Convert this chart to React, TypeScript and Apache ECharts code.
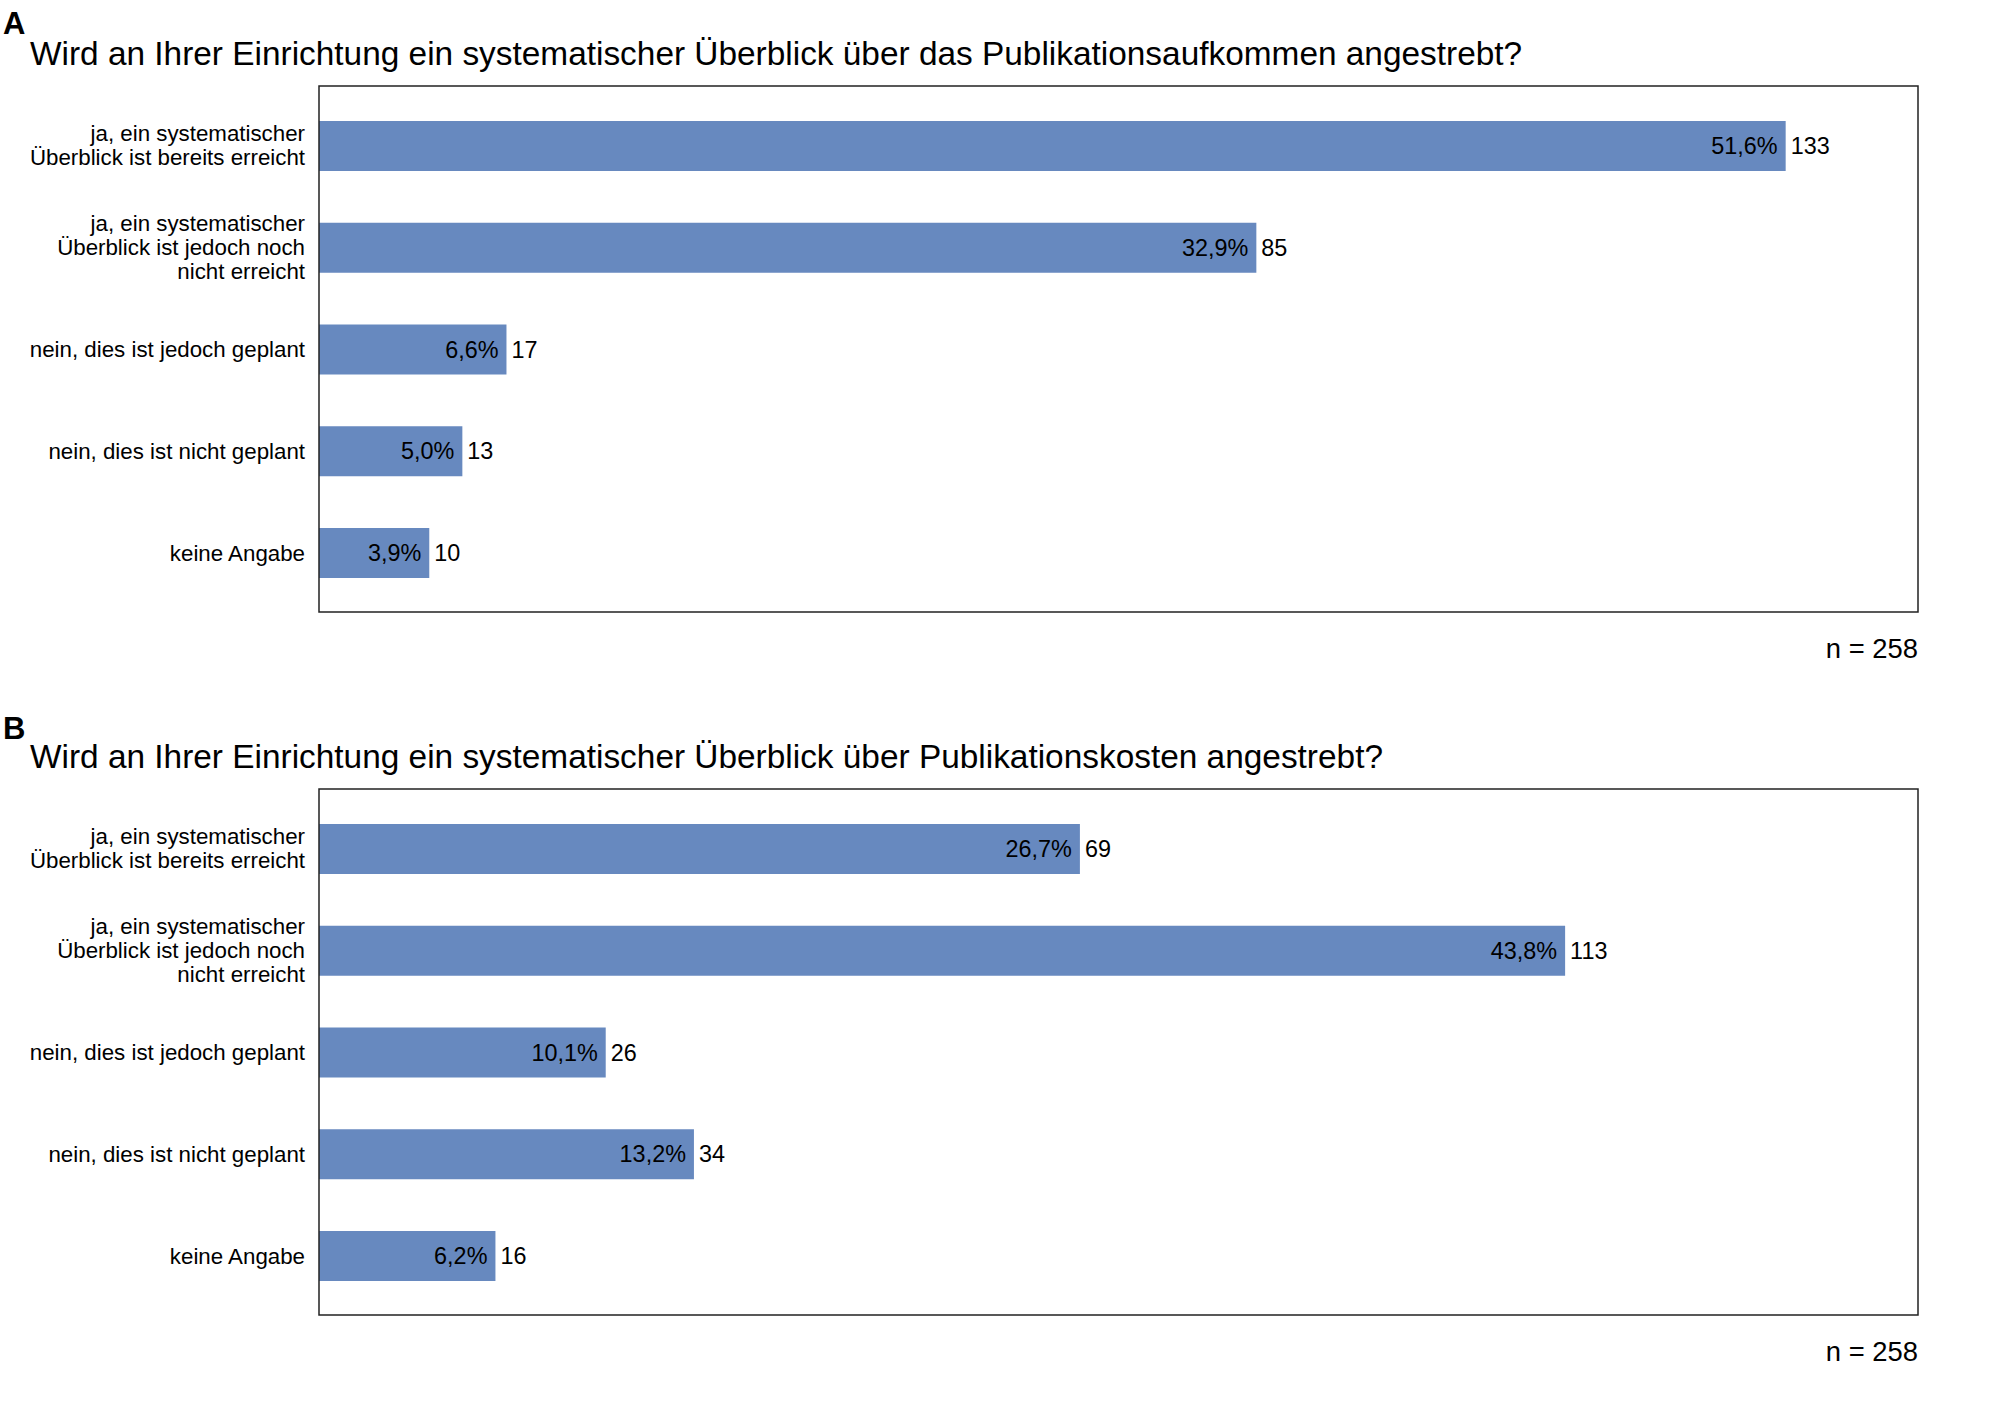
import React, { useEffect, useRef } from "react";
import * as echarts from "echarts";

// answer categories (same for both questions)
const categories = [
	"ja, ein systematischer\nÜberblick ist bereits erreicht",
	"ja, ein systematischer\nÜberblick ist jedoch noch\nnicht erreicht",
	"nein, dies ist jedoch geplant",
	"nein, dies ist nicht geplant",
	"keine Angabe",
];

const countsA = [133, 85, 17, 13, 10];
const percentA = [51.6, 32.9, 6.6, 5.0, 3.9];
const countsB = [69, 113, 26, 34, 16];
const percentB = [26.7, 43.8, 10.1, 13.2, 6.2];

const panelLetters = ["A", "B"];
const questions = [
	"Wird an Ihrer Einrichtung ein systematischer Überblick über das Publikationsaufkommen angestrebt?",
	"Wird an Ihrer Einrichtung ein systematischer Überblick über Publikationskosten angestrebt?",
];
const sampleNote = "n = 258";
const xMax = 145;

const FONT = '"Liberation Sans", Arial, Helvetica, sans-serif';
const BAR_COLOR = "#6789bf";

const fmtPct = (v) => v.toFixed(1).replace(".", ",") + "%";

const App = () => {
	const chartRef = useRef(null);

	useEffect(() => {
		const chart = echarts.init(chartRef.current, null, { renderer: "svg" });

		const frameLeft = 319;
		const frameWidth = 1599;
		const frameHeight = 526;
		const frameTops = [86, 789];
		const gridTops = [95, 798];
		const gridHeight = 509;

		const grids = gridTops.map((top) => ({
			left: frameLeft,
			top,
			width: frameWidth,
			height: gridHeight,
			containLabel: false,
		}));

		const xAxes = [0, 1].map((i) => ({
			type: "value",
			gridIndex: i,
			min: 0,
			max: xMax,
			show: false,
		}));

		const yAxes = [0, 1].map((i) => ({
			type: "category",
			gridIndex: i,
			data: categories,
			inverse: true,
			axisLine: { show: false },
			axisTick: { show: false },
			axisLabel: {
				color: "#000",
				fontFamily: FONT,
				fontSize: 22.3,
				lineHeight: 24,
				margin: 14,
				align: "right",
			},
		}));

		const panels = [
			{ counts: countsA, pct: percentA },
			{ counts: countsB, pct: percentB },
		];

		const series = [];
		panels.forEach((p, i) => {
			series.push({
				type: "bar",
				xAxisIndex: i,
				yAxisIndex: i,
				data: p.counts,
				barWidth: 50,
				itemStyle: { color: BAR_COLOR },
				label: {
					show: true,
					position: "insideRight",
					distance: 8,
					color: "#000",
					fontFamily: FONT,
					fontSize: 23.4,
					formatter: (params) => fmtPct(p.pct[params.dataIndex]),
				},
			});
			series.push({
				type: "bar",
				xAxisIndex: i,
				yAxisIndex: i,
				data: p.counts,
				barWidth: 50,
				barGap: "-100%",
				itemStyle: { color: "rgba(0,0,0,0)" },
				label: {
					show: true,
					position: "right",
					distance: 5,
					color: "#000",
					fontFamily: FONT,
					fontSize: 23.4,
				},
			});
		});

		const graphic = [];
		const letterY = [23, 728];
		const questionY = [53, 756];
		const noteY = [648, 1351];
		[0, 1].forEach((i) => {
			graphic.push({
				type: "rect",
				shape: { x: frameLeft, y: frameTops[i], width: frameWidth, height: frameHeight },
				style: { fill: "none", stroke: "#222", lineWidth: 1.5 },
				z: 10,
			});
			graphic.push({
				type: "text",
				style: {
					x: 3,
					y: letterY[i],
					text: panelLetters[i],
					font: `bold 31px ${FONT}`,
					fill: "#000",
					textAlign: "left",
					textVerticalAlign: "middle",
				},
			});
			graphic.push({
				type: "text",
				style: {
					x: 30,
					y: questionY[i],
					text: questions[i],
					font: `33.4px ${FONT}`,
					fill: "#000",
					textAlign: "left",
					textVerticalAlign: "middle",
				},
			});
			graphic.push({
				type: "text",
				style: {
					x: frameLeft + frameWidth,
					y: noteY[i],
					text: sampleNote,
					font: `27.4px ${FONT}`,
					fill: "#000",
					textAlign: "right",
					textVerticalAlign: "middle",
				},
			});
		});

		chart.setOption({
			animation: false,
			backgroundColor: "#fff",
			grid: grids,
			xAxis: xAxes,
			yAxis: yAxes,
			series,
			graphic,
		});

		return () => {
			chart.dispose();
		};
	}, []);

	return (
		<div
			ref={chartRef}
			style={{ position: "fixed", left: 0, top: 0, width: "2008px", height: "1406px" }}
		/>
	);
};

export default App;
